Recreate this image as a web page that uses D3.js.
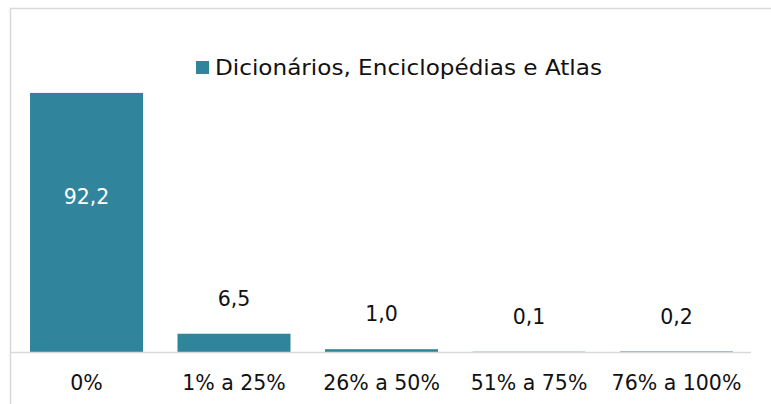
<!DOCTYPE html>
<html><head><meta charset="utf-8">
<script src="https://cdn.jsdelivr.net/npm/d3@7"></script>
<style>
html,body{margin:0;padding:0;background:#fff;}
svg{display:block;}
text{font-family:"DejaVu Sans",sans-serif;}
</style></head>
<body>
<svg id="chart" width="771" height="404"></svg>
<script>
const categories = ["0%", "1% a 25%", "26% a 50%", "51% a 75%", "76% a 100%"];
const values = [92.2, 6.5, 1.0, 0.1, 0.2];
const labels = ["92,2", "6,5", "1,0", "0,1", "0,2"];
const seriesName = "Dicionários, Enciclopédias e Atlas";

const W = 771, H = 404;
const svg = d3.select("#chart");
const barColor = "#30849b";
const textColor = "#111";
const FONT = "'DejaVu Sans', sans-serif";

// chart border (top and left visible only)
svg.append("rect").attr("x", 10.5).attr("y", 8.5).attr("width", 800).attr("height", 420)
  .attr("fill", "#fff").attr("stroke", "#d9d9d9").attr("stroke-width", 1.5);

const x = d3.scaleBand().domain(categories).range([12.75, 750.25])
  .paddingInner(0.234).paddingOuter(0.117);
const y = d3.scaleLinear().domain([0, 100]).range([352, 71]);

// bars
svg.append("g").selectAll("rect").data(values).join("rect")
  .attr("x", (d, i) => x(categories[i]))
  .attr("width", x.bandwidth())
  .attr("y", d => y(d))
  .attr("height", d => y(0) - y(d))
  .attr("fill", barColor);

// axis baseline
const xAxis = d3.axisBottom(x).tickSize(0).tickPadding(23);
const ax = svg.append("g").attr("transform", `translate(0,${y(0)})`).call(xAxis);
ax.select(".domain").attr("d", `M11,0.5H751`).attr("stroke", "#d9d9d9").attr("stroke-width", 1.5);
ax.selectAll("text").attr("font-size", 20.5).attr("fill", textColor)
  .attr("font-family", FONT);

// data labels
svg.append("g").selectAll("text").data(values).join("text")
  .attr("x", (d, i) => x(categories[i]) + x.bandwidth() / 2)
  .attr("y", (d, i) => i === 0 ? y(d * 0.6) : y(d) - 35)
  .attr("dy", "0.35em")
  .attr("text-anchor", "middle")
  .attr("font-size", 20.5)
  .attr("font-family", FONT)
  .attr("fill", (d, i) => i === 0 ? "#fff" : textColor)
  .text((d, i) => labels[i]);

// legend
const lg = svg.append("g").attr("transform", "translate(196,60)");
lg.append("rect").attr("width", 13).attr("height", 13).attr("y", 1).attr("fill", barColor);
const lt = lg.append("text").attr("x", 19).attr("y", 7.5).attr("dy", "0.35em")
  .attr("font-size", 21).attr("font-family", FONT).attr("fill", textColor).text(seriesName);
const wl = lt.node().getComputedTextLength();
if (Math.abs(wl - 387) > 4) lt.attr("textLength", 387).attr("lengthAdjust", "spacingAndGlyphs");
</script>
</body></html>
